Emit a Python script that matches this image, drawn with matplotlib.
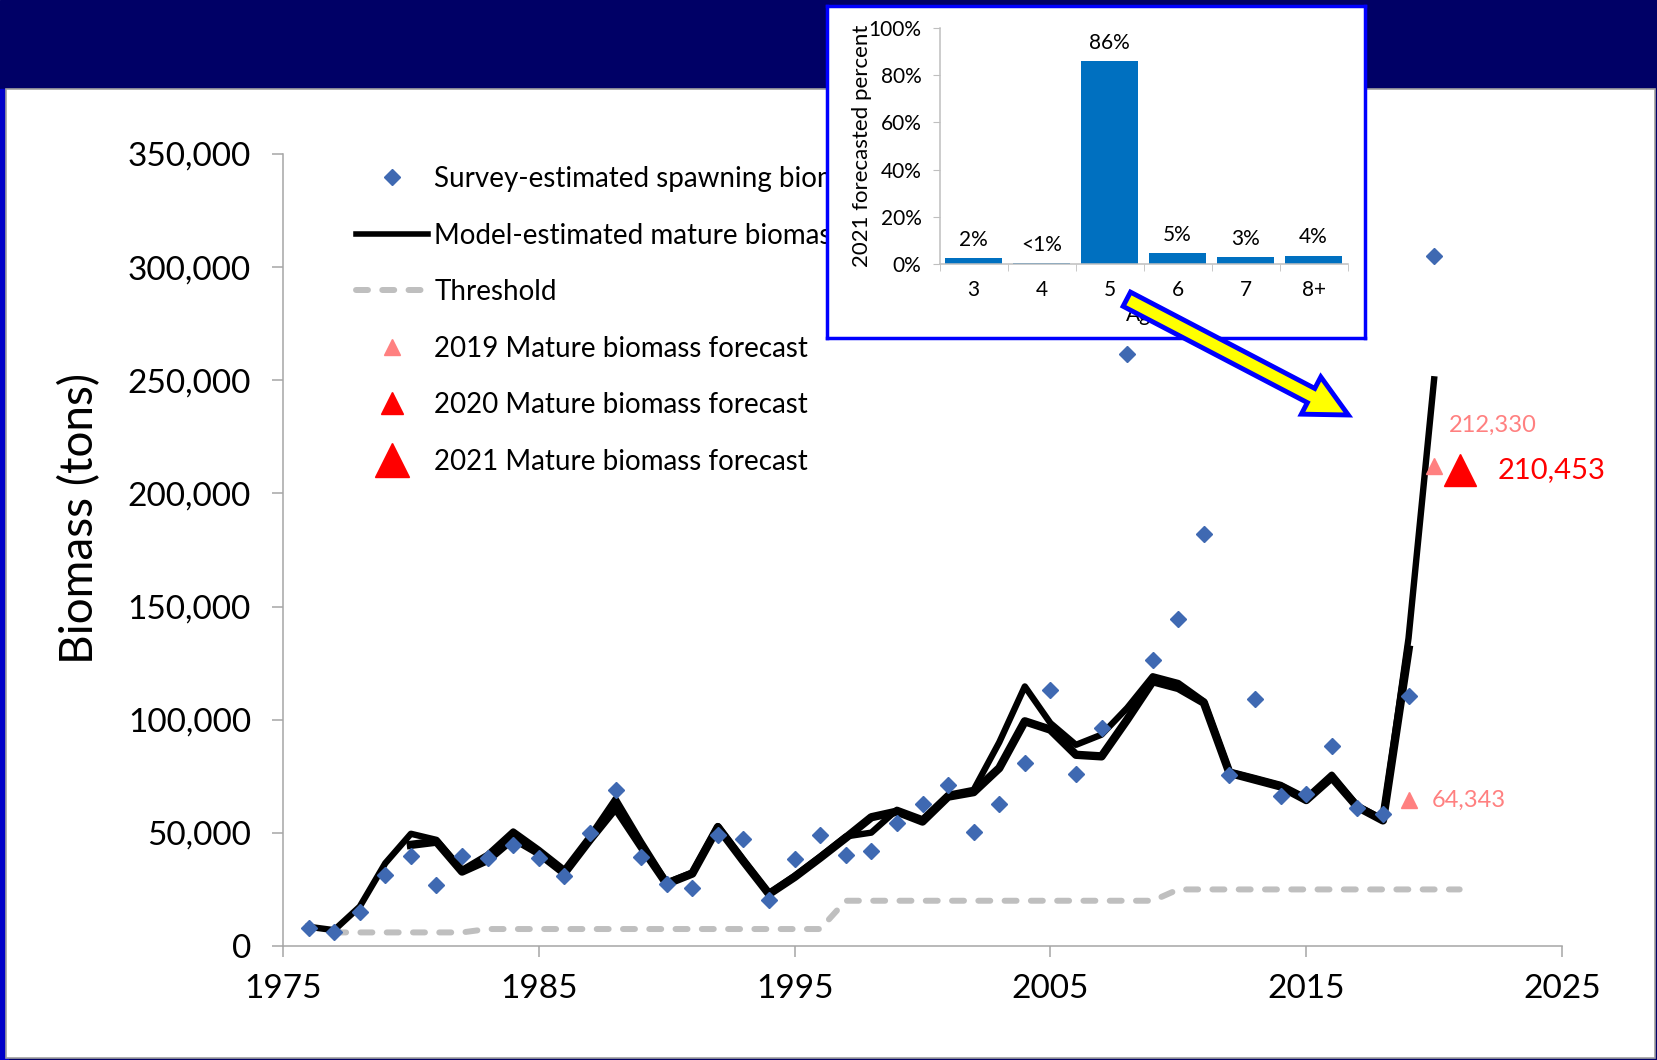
import numpy as np
import matplotlib
matplotlib.use("Agg")
import matplotlib.pyplot as plt
from matplotlib.patches import Rectangle, FancyArrow
from matplotlib.lines import Line2D
from matplotlib.ticker import FuncFormatter, FixedLocator

plt.rcParams['font.family'] = ['Lato', 'DejaVu Sans']

# ==============================
# Data
# ==============================
survey_years = np.arange(1976, 2021)
survey = [7800, 6100, 14900, 31400, 39800, 27000, 39800, 38800, 44700, 38800,
          31000, 50100, 68900, 39400, 27200, 25800, 49000, 47300, 20400, 38500,
          49100, 40000, 42000, 54300, 62800, 71200, 50300, 62800, 80800, 113300,
          76100, 96300, 261500, 126300, 144300, 181900, 75700, 109200, 66100, 67300,
          88200, 61000, 58200, 110300, 304900]

# model run that starts in 1976 and ends in 2020
model_b_years = np.arange(1976, 2021)
model_b = [8500, 7000, 17400, 36600, 49600, 46900, 33600, 40300, 50600, 42500,
           33600, 48400, 65000, 46000, 28000, 32500, 53000, 38000, 23300, 31000,
           39500, 48400, 50100, 60200, 56000, 66800, 69000, 90000, 114700, 98500,
           88900, 93400, 105200, 119200, 116200, 108100, 77100, 74200, 71200, 65400,
           75700, 62000, 56000, 136000, 250400]

# model run that starts in 1980 and ends in 2019
model_a_years = np.arange(1980, 2020)
model_a = [44700, 46100, 32900, 38000, 47600, 41000, 32200, 47000, 61000, 44000,
           27500, 32000, 52500, 37500, 23000, 30500, 39000, 47800, 56900, 59400,
           55000, 66000, 68000, 78600, 99300, 95600, 84500, 83800, 100000, 117000,
           114000, 107500, 76500, 73500, 70500, 64500, 74500, 61500, 55500, 131000]

thr_years = np.arange(1977, 2022)
threshold = [6000] * 6 + [7500] * 14 + [20000] * 13 + [25000] * 12

fc_years = [2019, 2020, 2021]
forecast = [64343, 212330, 210453]
fc_labels = ["64,343", "212,330", "210,453"]

ages = ["3", "4", "5", "6", "7", "8+"]
age_pct = [2.8, 0.6, 85.9, 4.8, 3.1, 3.7]
age_labels = ["2%", "<1%", "86%", "5%", "3%", "4%"]

# ==============================
# Colours
# ==============================
c_navy = "#000066"
c_diamond = "#3F69B2"
c_thr = "#BFBFBF"
c_pink = "#FF8080"
c_red = "#FF0000"
c_axis = "#A6A6A6"
c_bar = "#0070C0"

W, H = 1657, 1060
fig = plt.figure(figsize=(W / 100, H / 100), dpi=100)

# ==============================
# Slide background
# ==============================
bg = fig.add_axes([0, 0, 1, 1])
bg.set_xlim(0, W)
bg.set_ylim(H, 0)
bg.axis("off")
bg.add_patch(Rectangle((0, 0), W, H, color=c_navy))
bg.add_patch(Rectangle((0, 89), 8, H - 89, color="#0000C8"))
bg.add_patch(Rectangle((6, 89), 1649, 969, fc="white", ec="#A0A0A0", lw=1.2))

# ==============================
# Main chart
# ==============================
ax = fig.add_axes([283 / W, 1 - 946 / H, (1562 - 283) / W, (946 - 154) / H])
ax.patch.set_visible(False)

ax.plot(thr_years, threshold, color=c_thr, lw=4.3, ls=(0, (2.0, 2.4)),
        dash_capstyle="round", zorder=1)
ax.plot(model_a_years, model_a, color="black", lw=6, zorder=2)
ax.plot(model_b_years, model_b, color="black", lw=4.6, zorder=2)
ax.plot(survey_years, survey, ls="none", marker="D", ms=8.5, color=c_diamond, zorder=3)

fc_colors = [c_pink, c_pink, c_red]
fc_sizes = [11, 12, 23]
for yr, v, c, s in zip(fc_years, forecast, fc_colors, fc_sizes):
    ax.plot(yr, v, ls="none", marker="^", ms=s, color=c, zorder=4)

ax.annotate(fc_labels[0], (fc_years[0], forecast[0]), xytext=(16.5, 0),
            textcoords="offset points", ha="left", va="center",
            fontsize=17, color=c_pink)
ax.annotate(fc_labels[1], (fc_years[1], forecast[1]), xytext=(10.5, 29),
            textcoords="offset points", ha="left", va="center",
            fontsize=17, color=c_pink)
ax.annotate(fc_labels[2], (fc_years[2], forecast[2]), xytext=(27, 0),
            textcoords="offset points", ha="left", va="center",
            fontsize=21, color=c_red)

ax.set_xlim(1975, 2025)
ax.set_ylim(0, 350000)
ax.set_xticks(np.arange(1975, 2026, 10))
ax.set_yticks(np.arange(0, 350001, 50000))
ax.yaxis.set_major_formatter(FuncFormatter(lambda v, p: f"{v:,.0f}"))
for s in ["top", "right"]:
    ax.spines[s].set_visible(False)
for s in ["left", "bottom"]:
    ax.spines[s].set_color(c_axis)
    ax.spines[s].set_linewidth(1.1)
ax.tick_params(axis="both", direction="out", length=8, width=1.1, color=c_axis,
               labelsize=24)
ax.tick_params(axis="x", pad=12)
ax.tick_params(axis="y", pad=15)
ax.set_ylabel("Biomass (tons)", fontsize=33)
ax.yaxis.set_label_coords(-0.142, 0.54)

handles = [
    Line2D([], [], ls="none", marker="D", ms=8, color=c_diamond),
    Line2D([], [], color="black", lw=4),
    Line2D([], [], color=c_thr, lw=4.3, ls=(0, (2.0, 2.4)), dash_capstyle="round"),
    Line2D([], [], ls="none", marker="^", ms=11, color=c_pink),
    Line2D([], [], ls="none", marker="^", ms=16, color=c_red),
    Line2D([], [], ls="none", marker="^", ms=24, color=c_red),
]
labels = ["Survey-estimated spawning biomass", "Model-estimated mature biomass",
          "Threshold", "2019 Mature biomass forecast", "2020 Mature biomass forecast",
          "2021 Mature biomass forecast"]
ax.legend(handles, labels, loc="upper left", bbox_to_anchor=(356 / W, 1 - 166 / H),
          bbox_transform=fig.transFigure, frameon=False, fontsize=20,
          handlelength=2.6, handletextpad=0.22, labelspacing=1.1,
          borderpad=0, borderaxespad=0)

# ==============================
# Inset: age composition
# ==============================
bx = fig.add_axes([827 / W, 1 - 338 / H, (1365 - 827) / W, (338 - 6) / H])
bx.set_facecolor("white")
bx.set_xticks([])
bx.set_yticks([])
for s in bx.spines.values():
    s.set_color("#0000FF")
    s.set_linewidth(2.5)

ix = fig.add_axes([939.6 / W, 1 - 264.3 / H, 407.9 / W, 236.6 / H])
ix.patch.set_visible(False)
xpos = np.arange(len(ages))
ix.bar(xpos, age_pct, width=0.83, color=c_bar)
for i, (v, t) in enumerate(zip(age_pct, age_labels)):
    ix.annotate(t, (i, v), xytext=(0, 13), textcoords="offset points",
                ha="center", va="center", fontsize=15)
ix.set_xlim(-0.5, 5.5)
ix.set_ylim(0, 100)
ix.set_xticks(xpos)
ix.set_xticklabels(ages)
ix.xaxis.set_minor_locator(FixedLocator(np.arange(-0.5, 6, 1)))
ix.set_yticks(np.arange(0, 101, 20))
ix.yaxis.set_major_formatter(FuncFormatter(lambda v, p: f"{v:.0f}%"))
for s in ["top", "right"]:
    ix.spines[s].set_visible(False)
for s in ["left", "bottom"]:
    ix.spines[s].set_color("#BFBFBF")
    ix.spines[s].set_linewidth(1.1)
ix.tick_params(axis="x", which="major", length=0, labelsize=15, pad=11)
ix.tick_params(axis="x", which="minor", length=5, color="#BFBFBF")
ix.tick_params(axis="y", length=5, color="#BFBFBF", labelsize=15, pad=8)
ix.set_xlabel("Age", fontsize=15)
ix.xaxis.set_label_coords(0.5, -0.17)
ix.set_ylabel("2021 forecasted percent", fontsize=16)
ix.yaxis.set_label_coords(-0.165, 0.5)

# ==============================
# Yellow arrow on top
# ==============================
ov = fig.add_axes([0, 0, 1, 1])
ov.set_xlim(0, W)
ov.set_ylim(H, 0)
ov.axis("off")
ov.patch.set_visible(False)
ov.add_patch(FancyArrow(1126.8, 299.2, 221.5, 115.8, width=16, head_width=42,
                        head_length=42, length_includes_head=True,
                        fc="#FFFF00", ec="#0000FF", lw=3.5, joinstyle="miter"))

fig.savefig("out.png", dpi=100)
